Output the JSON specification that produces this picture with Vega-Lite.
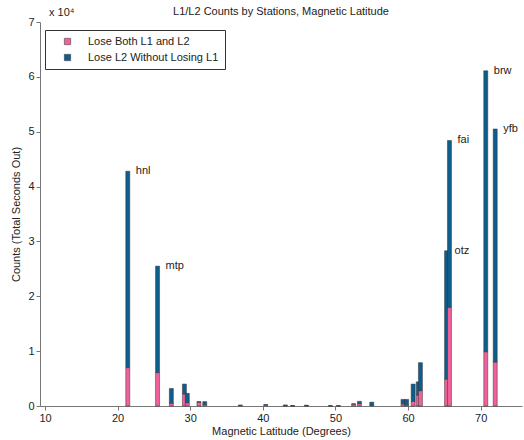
{
  "$schema": "https://vega.github.io/schema/vega-lite/v6.json",
  "width": 482,
  "height": 384,
  "autosize": {"type": "none"},
  "padding": {"left": 40, "top": 22, "right": 2, "bottom": 34},
  "background": "white",
  "title": {"text": "L1/L2 Counts by Stations, Magnetic Latitude", "font": "Liberation Sans", "fontSize": 11, "fontWeight": "normal", "color": "#222", "offset": -10},
  "config": {
    "view": {"stroke": null},
    "font": "Liberation Sans",
    "axis": {"labelFont": "Liberation Sans", "titleFont": "Liberation Sans", "labelFontSize": 11, "titleFontSize": 11, "titleFontWeight": "normal", "labelColor": "#222", "titleColor": "#222", "domainColor": "#777", "tickColor": "#777", "grid": false}
  },
  "datasets": {
    "bars": [
      {"lat": 21.4, "type": "Lose Both L1 and L2", "count": 7000},
      {"lat": 21.4, "type": "Lose L2 Without Losing L1", "count": 35800},
      {"lat": 25.5, "type": "Lose Both L1 and L2", "count": 6100},
      {"lat": 25.5, "type": "Lose L2 Without Losing L1", "count": 19400},
      {"lat": 27.4, "type": "Lose Both L1 and L2", "count": 500},
      {"lat": 27.4, "type": "Lose L2 Without Losing L1", "count": 2700},
      {"lat": 29.2, "type": "Lose Both L1 and L2", "count": 2200},
      {"lat": 29.2, "type": "Lose L2 Without Losing L1", "count": 1800},
      {"lat": 29.6, "type": "Lose Both L1 and L2", "count": 600},
      {"lat": 29.6, "type": "Lose L2 Without Losing L1", "count": 1700},
      {"lat": 31.2, "type": "Lose Both L1 and L2", "count": 700},
      {"lat": 31.2, "type": "Lose L2 Without Losing L1", "count": 100},
      {"lat": 32.0, "type": "Lose Both L1 and L2", "count": 250},
      {"lat": 32.0, "type": "Lose L2 Without Losing L1", "count": 550},
      {"lat": 36.9, "type": "Lose Both L1 and L2", "count": 120},
      {"lat": 36.9, "type": "Lose L2 Without Losing L1", "count": 30},
      {"lat": 40.4, "type": "Lose Both L1 and L2", "count": 200},
      {"lat": 40.4, "type": "Lose L2 Without Losing L1", "count": 50},
      {"lat": 43.1, "type": "Lose Both L1 and L2", "count": 50},
      {"lat": 43.1, "type": "Lose L2 Without Losing L1", "count": 150},
      {"lat": 44.1, "type": "Lose Both L1 and L2", "count": 30},
      {"lat": 44.1, "type": "Lose L2 Without Losing L1", "count": 50},
      {"lat": 46.0, "type": "Lose Both L1 and L2", "count": 50},
      {"lat": 46.0, "type": "Lose L2 Without Losing L1", "count": 100},
      {"lat": 49.3, "type": "Lose Both L1 and L2", "count": 20},
      {"lat": 49.3, "type": "Lose L2 Without Losing L1", "count": 30},
      {"lat": 50.4, "type": "Lose Both L1 and L2", "count": 20},
      {"lat": 50.4, "type": "Lose L2 Without Losing L1", "count": 40},
      {"lat": 52.5, "type": "Lose Both L1 and L2", "count": 350},
      {"lat": 52.5, "type": "Lose L2 Without Losing L1", "count": 50},
      {"lat": 53.3, "type": "Lose Both L1 and L2", "count": 450},
      {"lat": 53.3, "type": "Lose L2 Without Losing L1", "count": 400},
      {"lat": 55.0, "type": "Lose Both L1 and L2", "count": 100},
      {"lat": 55.0, "type": "Lose L2 Without Losing L1", "count": 600},
      {"lat": 59.3, "type": "Lose Both L1 and L2", "count": 400},
      {"lat": 59.3, "type": "Lose L2 Without Losing L1", "count": 800},
      {"lat": 59.8, "type": "Lose Both L1 and L2", "count": 200},
      {"lat": 59.8, "type": "Lose L2 Without Losing L1", "count": 1000},
      {"lat": 60.7, "type": "Lose Both L1 and L2", "count": 850},
      {"lat": 60.7, "type": "Lose L2 Without Losing L1", "count": 3150},
      {"lat": 61.4, "type": "Lose Both L1 and L2", "count": 2000},
      {"lat": 61.4, "type": "Lose L2 Without Losing L1", "count": 2400},
      {"lat": 61.7, "type": "Lose Both L1 and L2", "count": 2800},
      {"lat": 61.7, "type": "Lose L2 Without Losing L1", "count": 5100},
      {"lat": 65.3, "type": "Lose Both L1 and L2", "count": 4900},
      {"lat": 65.3, "type": "Lose L2 Without Losing L1", "count": 23400},
      {"lat": 65.7, "type": "Lose Both L1 and L2", "count": 18000},
      {"lat": 65.7, "type": "Lose L2 Without Losing L1", "count": 30400},
      {"lat": 70.7, "type": "Lose Both L1 and L2", "count": 9900},
      {"lat": 70.7, "type": "Lose L2 Without Losing L1", "count": 51200},
      {"lat": 72.0, "type": "Lose Both L1 and L2", "count": 8000},
      {"lat": 72.0, "type": "Lose L2 Without Losing L1", "count": 42500}
    ],
    "labels": [
      {"station": "hnl", "lat": 21.4, "total": 42800},
      {"station": "mtp", "lat": 25.5, "total": 25500},
      {"station": "otz", "lat": 65.3, "total": 28300},
      {"station": "fai", "lat": 65.7, "total": 48400},
      {"station": "brw", "lat": 70.7, "total": 61100},
      {"station": "yfb", "lat": 72.0, "total": 50500}
    ],
    "corner": [{"lat": 10, "total": 70000, "t": "x 10⁴"}]
  },
  "layer": [
    {
      "data": {"name": "bars"},
      "mark": {"type": "bar", "size": 4, "stroke": "#333", "strokeWidth": 0.5},
      "encoding": {
        "x": {"field": "lat", "type": "quantitative", "scale": {"domain": [10, 75], "nice": false, "zero": false},
              "axis": {"values": [10, 20, 30, 40, 50, 60, 70], "title": "Magnetic Latitude (Degrees)", "tickSize": 4, "labelPadding": 2, "titlePadding": 2}},
        "y": {"field": "count", "type": "quantitative", "stack": "zero", "scale": {"domain": [0, 70000], "nice": false},
              "axis": {"values": [0, 10000, 20000, 30000, 40000, 50000, 60000, 70000], "labelExpr": "datum.value / 10000", "title": "Counts (Total Seconds Out)", "tickSize": 4, "labelPadding": 2, "titlePadding": 6}},
        "color": {"field": "type", "type": "nominal",
                  "scale": {"domain": ["Lose Both L1 and L2", "Lose L2 Without Losing L1"], "range": ["#f0609a", "#0f5d8c"]},
                  "legend": {"title": null, "orient": "none", "legendX": 5, "legendY": 8, "symbolType": "square", "symbolSize": 40, "symbolOffset": 11, "symbolStrokeColor": "#333", "symbolStrokeWidth": 0.5, "labelFontSize": 11, "labelFont": "Liberation Sans", "labelColor": "#222", "strokeColor": "#333", "fillColor": "white", "padding": 6, "rowPadding": 4, "labelOffset": 15, "offset": 0}},
        "order": {"field": "type", "sort": "ascending"}
      }
    },
    {
      "data": {"name": "labels"},
      "mark": {"type": "text", "align": "left", "baseline": "middle", "dx": 8, "fontSize": 11, "font": "Liberation Sans", "color": "#222"},
      "encoding": {
        "x": {"field": "lat", "type": "quantitative"},
        "y": {"field": "total", "type": "quantitative"},
        "text": {"field": "station"}
      }
    },
    {
      "data": {"name": "corner"},
      "mark": {"type": "text", "align": "left", "baseline": "bottom", "dx": 4, "dy": -4, "fontSize": 11, "font": "Liberation Sans", "color": "#222"},
      "encoding": {
        "x": {"field": "lat", "type": "quantitative"},
        "y": {"field": "total", "type": "quantitative"},
        "text": {"field": "t"}
      }
    }
  ]
}
